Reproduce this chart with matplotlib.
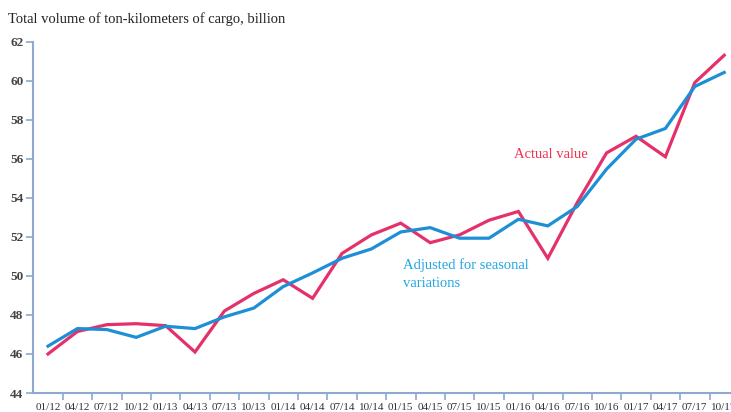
import matplotlib
matplotlib.use("Agg")
import matplotlib.pyplot as plt
import numpy as np

labels = ["01/12", "04/12", "07/12", "10/12", "01/13", "04/13", "07/13", "10/13",
          "01/14", "04/14", "07/14", "10/14", "01/15", "04/15", "07/15", "10/15",
          "01/16", "04/16", "07/16", "10/16", "01/17", "04/17", "07/17", "10/17"]
actual = [46.0, 47.15, 47.5, 47.55, 47.45, 46.1, 48.2, 49.1,
          49.8, 48.85, 51.15, 52.1, 52.7, 51.7, 52.1, 52.85,
          53.3, 50.9, 53.75, 56.3, 57.15, 56.1, 59.9, 61.3]
adjusted = [46.4, 47.3, 47.25, 46.85, 47.42, 47.3, 47.9, 48.35,
            49.45, 50.15, 50.9, 51.38, 52.25, 52.47, 51.93, 51.93,
            52.9, 52.56, 53.55, 55.47, 57.0, 57.55, 59.7, 60.42]
yticks = [44, 46, 48, 50, 52, 54, 56, 58, 60, 62]

W, H = 731, 412
fig = plt.figure(figsize=(W / 100, H / 100), dpi=100)
plt.rcParams['font.family'] = ['Liberation Serif', 'DejaVu Serif']

left_px, right_px = 33.3, 738.9
top_px, bot_px = 41.6, 393.0
ax = fig.add_axes([left_px / W, (H - bot_px) / H, (right_px - left_px) / W, (bot_px - top_px) / H])

red = "#E5316A"
blue = "#1C8FD6"
x = np.arange(len(labels))
ax.plot(x, actual, color=red, lw=2.3, solid_joinstyle='miter')
ax.plot(x, adjusted, color=blue, lw=2.3, solid_joinstyle='miter')

ax.set_xlim(-0.5, len(labels) - 0.5)
ax.set_ylim(44, 62)
axis_col = "#8FA8CF"
for s in ["top", "right"]:
    ax.spines[s].set_visible(False)
for s in ["left", "bottom"]:
    ax.spines[s].set_color(axis_col)
    ax.spines[s].set_linewidth(1.5)

ax.set_yticks(yticks)
ax.set_yticklabels([str(v) for v in yticks], fontweight='bold', fontsize=9.5, color="#444444")
ax.tick_params(axis='y', length=5, width=1.2, color=axis_col, pad=2)

ax.set_xticks(x)
ax.set_xticklabels(labels, fontsize=8, color="#333333")
ax.tick_params(axis='x', which='major', length=0, pad=7)
ax.set_xticks(np.arange(0.5, len(labels) - 0.5, 1.0), minor=True)
ax.tick_params(axis='x', which='minor', length=5, width=1.2, color=axis_col)

fig.text(8 / W, 1 - 23 / H, "Total volume of ton-kilometers of cargo, billion",
         fontsize=10.5, color="#222222", ha='left', va='baseline')
fig.text(514 / W, 1 - 158 / H, "Actual value", fontsize=10.5, color="#F0304F",
         ha='left', va='baseline')
fig.text(403 / W, 1 - 269 / H, "Adjusted for seasonal", fontsize=10.5, color="#22A6E2",
         ha='left', va='baseline')
fig.text(403 / W, 1 - 287 / H, "variations", fontsize=10.5, color="#22A6E2",
         ha='left', va='baseline')

fig.savefig("out.png", dpi=100)
